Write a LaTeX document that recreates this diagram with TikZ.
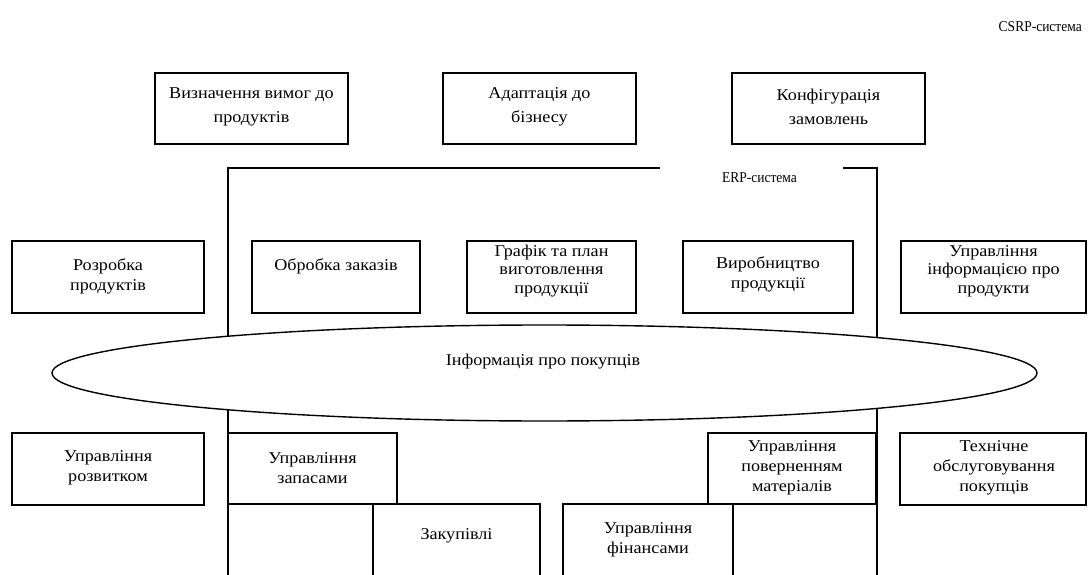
\documentclass[tikz,border=0pt]{standalone}
\usepackage{fontspec}
\setmainfont[FakeStretch=1.1]{Liberation Serif}
\newfontfamily\lblfont[FakeStretch=0.9]{Liberation Serif}
\usetikzlibrary{shapes.geometric}
\begin{document}
\begin{tikzpicture}[x=1pt,y=-1pt,
  box/.style={draw, line width=1.1pt, fill=white, inner sep=0pt},
  txt/.style={align=center, font=\fontsize{16.5}{20}\selectfont, inner sep=0pt},
  txt3/.style={txt, font=\fontsize{16.5}{18.5}\selectfont},
  toptxt/.style={txt, font=\fontsize{16.5}{24}\selectfont},
  lbl/.style={inner sep=0pt, font=\lblfont\fontsize{15}{17}\selectfont},
  erp/.style={line width=1.4pt}]
\useasboundingbox (0,0) rectangle (1088,575);
\clip (0,0) rectangle (1088,575);

% CSRP label
\node[lbl, anchor=east] (csrp) at (1082,27) {CSRP-система};

% top boxes
\node[box, minimum width=193, minimum height=71] (b1) at (251.5,108.5) {};
\node[box, minimum width=193, minimum height=71] (b2) at (539.5,108.5) {};
\node[box, minimum width=193, minimum height=71] (b3) at (828.5,108.5) {};
\node[toptxt] (t1) at (251.5,107) {Визначення вимог до\\продуктів};
\node[toptxt] (t2) at (539.5,107) {Адаптація до\\бізнесу};
\node[toptxt] (t3) at (828.5,107) {Конфігурація\\замовлень};

% ERP frame
\coordinate (e1) at (228,168);
\coordinate (e2) at (660,168);
\coordinate (e3) at (843,168);
\coordinate (e4) at (877,168);
\coordinate (e1b) at (228,585);
\coordinate (e4b) at (877,585);
\draw[erp] (e2) -- (e1) -- (e1b);
\draw[erp] (e3) -- (e4) -- (e4b);
\node[lbl] (erpl) at (759.5,178) {ERP-система};

% middle row
\node[box, minimum width=192, minimum height=72] (r1) at (108,277) {};
\node[box, minimum width=168, minimum height=72] (r2) at (336,277) {};
\node[box, minimum width=169, minimum height=72] (r3) at (551.5,277) {};
\node[box, minimum width=170, minimum height=72] (r4) at (768,277) {};
\node[box, minimum width=185, minimum height=72] (r5) at (993.5,277) {};
\node[txt] (s1) at (108,276) {Розробка\\продуктів};
\node[txt] (s2) at (336,266) {Обробка заказів};
\node[txt3] (s3) at (551.5,271) {Графік та план\\виготовлення\\продукції};
\node[txt] (s4) at (768,274) {Виробництво\\продукції};
\node[txt3] (s5) at (993.5,271) {Управління\\інформацією про\\продукти};

% ellipse
\node[draw, ellipse, line width=1.4pt, fill=white, inner sep=0pt,
      minimum width=985, minimum height=96] (ell) at (544.5,373) {};
\node[txt] (ellt) at (543,362) {Інформація про покупців};

% bottom rows
\node[box, minimum width=192, minimum height=72] (u1) at (108,469) {};
\node[box, minimum width=167, minimum height=86] (u5) at (456.5,547) {};
\node[box, minimum width=170, minimum height=86] (u6) at (648,547) {};
\node[box, minimum width=169, minimum height=71] (u2) at (312.5,468.5) {};
\node[box, minimum width=168, minimum height=71] (u3) at (792,468.5) {};
\node[box, minimum width=186, minimum height=72] (u4) at (993,469) {};
\node[txt] (v1) at (108,468) {Управління\\розвитком};
\node[txt] (v2) at (312.5,468) {Управління\\запасами};
\node[txt] (v3) at (792,468) {Управління\\поверненням\\матеріалів};
\node[txt] (v4) at (994,468) {Технічне\\обслуговування\\покупців};
\node[txt] (v5) at (456.5,536) {Закупівлі};
\node[txt] (v6) at (648,540) {Управління\\фінансами};
\end{tikzpicture}
\end{document}
